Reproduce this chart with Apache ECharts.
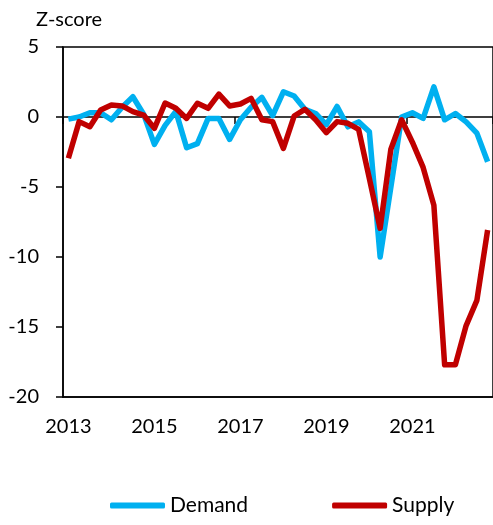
<!DOCTYPE html>
<html>
<head>
<meta charset="utf-8">
<script src="https://cdn.jsdelivr.net/npm/echarts@6/dist/echarts.min.js"></script>
<style>
  html, body { margin: 0; padding: 0; background: #fff; }
  #chart { width: 493px; height: 525px; }
</style>
</head>
<body>
<div id="chart"></div>
<script>
// quarterly, 2013Q1 .. 2022Q4
var years = ['2013', '2014', '2015', '2016', '2017', '2018', '2019', '2020', '2021', '2022'];
var quarters = ['Q1', 'Q2', 'Q3', 'Q4'];
var categories = [];
years.forEach(function (y) {
    quarters.forEach(function (q) { categories.push(y + ' ' + q); });
});

var demand = [-0.15, 0.0, 0.3, 0.3, -0.2, 0.7, 1.45, 0.2, -1.95, -0.6,
              0.4, -2.2, -1.9, -0.1, -0.1, -1.6, -0.2, 0.7, 1.4, 0.1,
              1.8, 1.5, 0.55, 0.25, -0.55, 0.75, -0.7, -0.35, -1.05, -10.0,
              -5.0, 0.0, 0.3, -0.1, 2.15, -0.2, 0.25, -0.35, -1.15, -3.2];

var supply = [-2.95, -0.33, -0.69, 0.5, 0.86, 0.79, 0.38, 0.14, -0.81, 1.0,
              0.62, -0.1, 0.98, 0.62, 1.64, 0.79, 0.93, 1.33, -0.2, -0.33,
              -2.24, 0.07, 0.55, -0.2, -1.12, -0.33, -0.45, -0.88, -4.4, -7.95,
              -2.3, -0.2, -1.8, -3.6, -6.3, -17.7, -17.7, -14.9, -13.1, -8.07];

var font = 'Lato, "Open Sans", sans-serif';

var myChart = echarts.init(document.getElementById('chart'));

var option = {
    animation: false,
    title: {
        text: 'Z-score',
        left: 31,
        top: 5,
        textStyle: { fontFamily: font, fontSize: 20, fontWeight: 'normal', color: '#000' }
    },
    legend: {
        bottom: 4,
        left: 105,
        itemWidth: 55,
        itemHeight: 6,
        itemGap: 84,
        textStyle: { fontFamily: font, fontSize: 21, color: '#000' },
        data: [
            { name: 'Demand', icon: 'roundRect' },
            { name: 'Supply', icon: 'roundRect' }
        ]
    },
    grid: {
        left: 63,
        top: 47,
        width: 431,
        height: 350,
        show: true,
        borderColor: '#000',
        borderWidth: 1.5
    },
    xAxis: [{
        type: 'category',
        data: categories,
        position: 'bottom',
        axisLine: { onZero: false, lineStyle: { color: '#000', width: 1.5 } },
        axisTick: { show: false },
        axisLabel: {
            interval: 7,
            margin: 20,
            fontFamily: font,
            fontSize: 20,
            color: '#000',
            formatter: function (v) { return v.split(' ')[0]; }
        },
        splitLine: { show: false }
    }, {
        type: 'category',
        data: categories,
        position: 'top',
        axisLine: { onZero: true, lineStyle: { color: '#000', width: 1.5 } },
        axisTick: { show: true, interval: 15, inside: true, length: 7, lineStyle: { color: '#000', width: 1.5 } },
        axisLabel: { show: false },
        splitLine: { show: false }
    }],
    yAxis: {
        type: 'value',
        min: -20,
        max: 5,
        interval: 5,
        axisLine: { show: true, lineStyle: { color: '#000', width: 1.5 } },
        axisTick: { show: true, length: 7, lineStyle: { color: '#000', width: 1.5 } },
        axisLabel: { margin: 24, fontFamily: font, fontSize: 20, color: '#000' },
        splitLine: { show: false }
    },
    series: [{
        name: 'Demand',
        type: 'line',
        data: demand,
        symbol: 'none',
        itemStyle: { color: '#00B0F0' },
        lineStyle: { color: '#00B0F0', width: 5.5, join: 'round' }
    }, {
        name: 'Supply',
        type: 'line',
        data: supply,
        symbol: 'none',
        itemStyle: { color: '#C00000' },
        lineStyle: { color: '#C00000', width: 5.5, join: 'round' }
    }]
};

myChart.setOption(option);
</script>
</body>
</html>
